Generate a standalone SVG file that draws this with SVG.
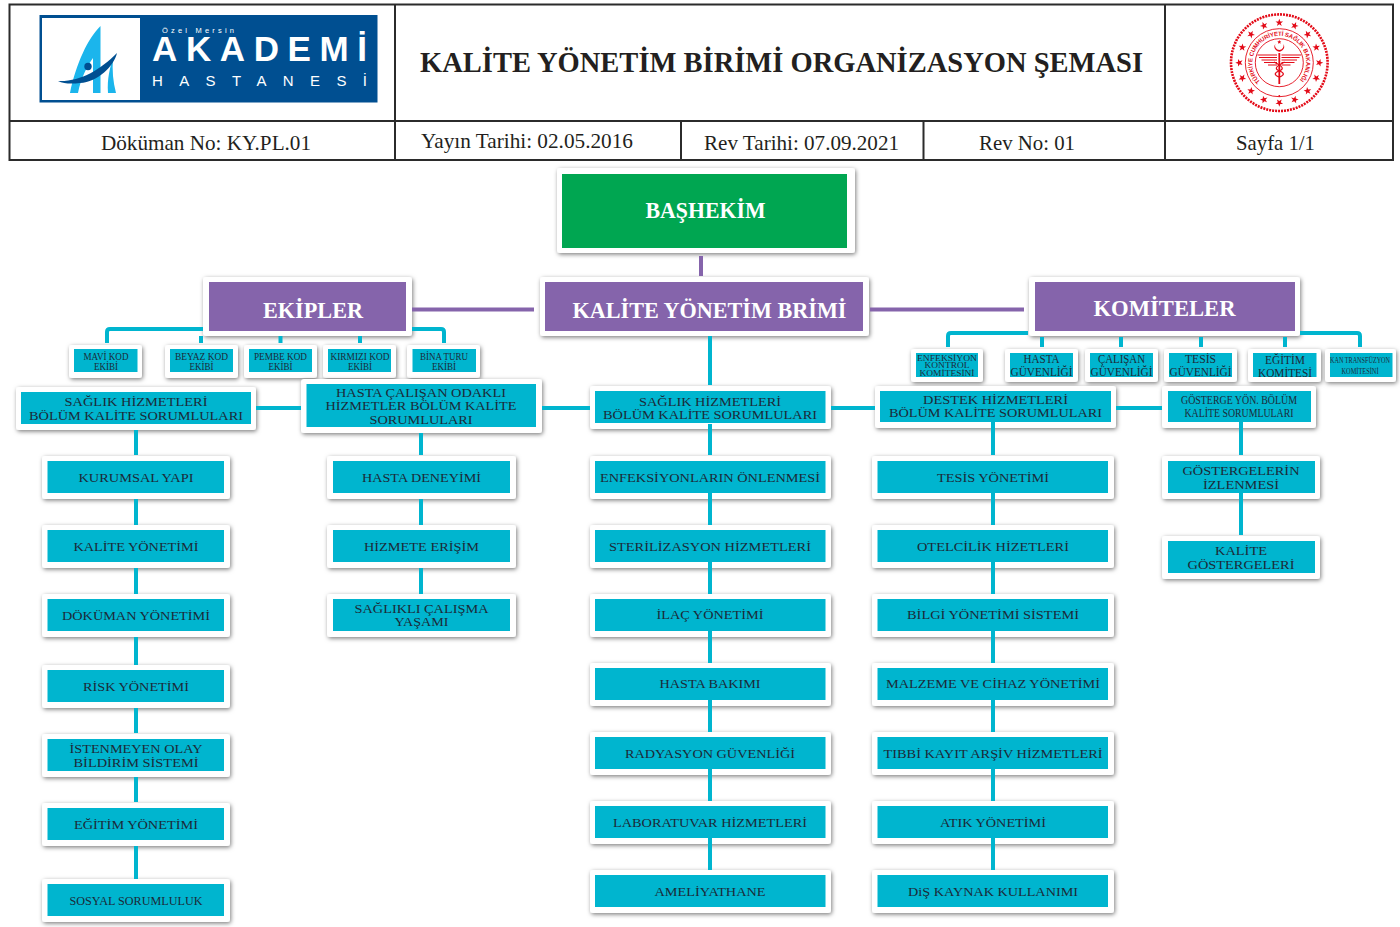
<svg xmlns="http://www.w3.org/2000/svg" width="1400" height="927" viewBox="0 0 1400 927">
<style>
text{font-family:"Liberation Serif","Times New Roman",serif;text-anchor:middle}
.f{fill:#fff;filter:url(#sh);rx:3px;ry:3px}
.b{fill:#00b5cf}
.p{fill:#8564ab}
.g{fill:#00a651}
.t{font-size:13.5px;fill:#1c2a38}
.s{font-size:9.5px;fill:#1c2a38}
.x{font-size:7.2px;fill:#1c2a38}
.n{font-size:8px;fill:#1c2a38}
.c{font-size:12.5px;fill:#1c2a38}
.w{font-weight:bold;fill:#fff;font-size:23px}
.h{font-size:21px;fill:#231f20}
.grid{stroke:#2b2b2b;stroke-width:2;fill:none}
.tl{fill:none;stroke:#00b5cf;stroke-width:4}
.pl{fill:none;stroke:#8564ab;stroke-width:4}
.lg{font-family:"Liberation Sans",Arial,sans-serif;fill:#fff;text-anchor:start}
.red{fill:#e30a17}
.rl{fill:none;stroke:#e30a17}
.wf{fill:none;stroke:#e30a17;stroke-width:1.200}
</style>
<defs>
<filter id="sh" x="-10%" y="-20%" width="125%" height="150%"><feDropShadow dx="1" dy="1.500" stdDeviation="2" flood-color="#000" flood-opacity="0.5"/></filter>
<polygon id="st" points="0,-4 1,-1.300 3.800,-1.300 1.500,0.500 2.400,3.200 0,1.600 -2.400,3.200 -1.500,0.500 -3.800,-1.300 -1,-1.300" class="red"/>
<path id="arc" d="M1260.300 81.700A26.900 26.900 0 1 1 1298.300 81.700"/>
</defs>
<rect width="1400" height="927" fill="#fff"/>

<g id="header">
<rect class="grid" x="9.500" y="4.500" width="1383.500" height="155.500"/>
<path class="grid" d="M9.500 121H1393M395 4.500V160M1165 4.500V160M681 121V160M923.500 121V160"/>
<text x="781.500" y="72" font-size="30" font-weight="bold" fill="#231f20" textLength="723" lengthAdjust="spacingAndGlyphs">KALİTE YÖNETİM BİRİMİ ORGANİZASYON ŞEMASI</text>
<text class="h" x="206" y="150" textLength="210" lengthAdjust="spacingAndGlyphs">Döküman No: KY.PL.01</text>
<text class="h" x="527" y="148" textLength="212" lengthAdjust="spacingAndGlyphs">Yayın Tarihi: 02.05.2016</text>
<text class="h" x="801.500" y="150" textLength="195" lengthAdjust="spacingAndGlyphs">Rev Tarihi: 07.09.2021</text>
<text class="h" x="1027" y="150" textLength="96" lengthAdjust="spacingAndGlyphs">Rev No: 01</text>
<text class="h" x="1275.500" y="150" textLength="79" lengthAdjust="spacingAndGlyphs">Sayfa 1/1</text>
</g>

<g id="logo">
<rect x="39.500" y="15" width="338" height="87.500" fill="#004f91"/>
<rect x="42" y="18" width="98" height="82" fill="#fff"/>
<path fill="#1bb5ec" d="M100.500 26C88 38 76 64 70 93H78C81 78 87 66 93 58V93H100.500Z"/>
<path fill="#1bb5ec" d="M113 58C110 68 107 78 108 93H116C113 82 112 70 113 58Z"/>
<path fill="#004f91" d="M58 81C80 82 100 70 117 53C114 66 98 82 80 83C72 84 64 84 58 81Z"/>
<circle cx="88" cy="66.500" r="3.700" fill="#004f91"/>
<text class="lg" x="162" y="32.500" font-size="7.500" textLength="72" lengthAdjust="spacing">Özel Mersin</text>
<text class="lg" x="152" y="61" font-size="35" font-weight="bold" textLength="215" lengthAdjust="spacing">AKADEMİ</text>
<text class="lg" x="152" y="85.500" font-size="15" textLength="215" lengthAdjust="spacing">HASTANESİ</text>
</g>

<g id="seal">
<circle class="rl" cx="1279.300" cy="62.700" r="48.300" stroke-width="2.600" stroke-dasharray="2 1"/>
<circle class="rl" cx="1279.300" cy="62.700" r="34" stroke-width="0.900"/>
<circle class="rl" cx="1279.300" cy="62.700" r="24" stroke-width="0.900"/>
<use href="#st" transform="translate(1279.300 62.700) rotate(0) translate(0 -40)"/>
<use href="#st" transform="translate(1279.300 62.700) rotate(22.500) translate(0 -40)"/>
<use href="#st" transform="translate(1279.300 62.700) rotate(45) translate(0 -40)"/>
<use href="#st" transform="translate(1279.300 62.700) rotate(67.500) translate(0 -40)"/>
<use href="#st" transform="translate(1279.300 62.700) rotate(90) translate(0 -40)"/>
<use href="#st" transform="translate(1279.300 62.700) rotate(112.500) translate(0 -40)"/>
<use href="#st" transform="translate(1279.300 62.700) rotate(135) translate(0 -40)"/>
<use href="#st" transform="translate(1279.300 62.700) rotate(157.500) translate(0 -40)"/>
<use href="#st" transform="translate(1279.300 62.700) rotate(180) translate(0 -40)"/>
<use href="#st" transform="translate(1279.300 62.700) rotate(202.500) translate(0 -40)"/>
<use href="#st" transform="translate(1279.300 62.700) rotate(225) translate(0 -40)"/>
<use href="#st" transform="translate(1279.300 62.700) rotate(247.500) translate(0 -40)"/>
<use href="#st" transform="translate(1279.300 62.700) rotate(270) translate(0 -40)"/>
<use href="#st" transform="translate(1279.300 62.700) rotate(292.500) translate(0 -40)"/>
<use href="#st" transform="translate(1279.300 62.700) rotate(315) translate(0 -40)"/>
<use href="#st" transform="translate(1279.300 62.700) rotate(337.500) translate(0 -40)"/>
<text font-size="6" font-weight="bold" style="font-family:'Liberation Sans',Arial,sans-serif;text-anchor:start" class="red"><textPath href="#arc" textLength="124">TÜRKİYE CUMHURİYETİ SAĞLIK BAKANLIĞI</textPath></text>
<path class="red" d="M1275.300 44A4.800 4.800 0 1 0 1283.300 44A4.300 4.300 0 1 1 1275.300 44Z"/>
<path class="red" d="M1279.300 40l.6 1.300 1.400.1-1 .9.300 1.400-1.300-.8-1.300.8.300-1.400-1-.9 1.400-.1Z"/>
<path class="wf" d="M1257.500 55H1277M1259 57.500H1277M1261.500 60H1277M1264 62.500H1277M1268 65H1277"/>
<path class="wf" d="M1301 55H1281.500M1299.500 57.500H1281.500M1297 60H1281.500M1294.500 62.500H1281.500M1290.500 65H1281.500"/>
<path class="rl" stroke-width="1.800" d="M1279.300 53V84"/>
<path class="rl" stroke-width="1.200" d="M1274 62C1284 67 1284 69 1279 71C1274 73 1274 75 1279 77M1284.600 62C1274.600 67 1274.600 69 1279.600 71C1284.600 73 1284.600 75 1279.600 77"/>
<circle class="red" cx="1279.300" cy="96" r="0.900"/>
</g>

<g id="basekim"><rect class="f" x="557" y="168" width="298" height="85"/><rect class="g" x="562" y="174" width="285" height="74"/><text class="w" x="705.500" y="218" textLength="120" lengthAdjust="spacingAndGlyphs">BAŞHEKİM</text></g>
<g id="kalite"><rect class="f" x="540" y="277" width="329" height="59"/><rect class="p" x="545" y="282" width="318" height="49"/><text class="w" x="709.500" y="318" textLength="274" lengthAdjust="spacingAndGlyphs">KALİTE YÖNETİM BRİMİ</text></g>
<g id="ekipler"><rect class="f" x="203" y="277" width="209" height="59"/><rect class="p" x="209" y="282" width="197" height="49"/><text class="w" x="313" y="318" textLength="100" lengthAdjust="spacingAndGlyphs">EKİPLER</text></g>
<g id="komiteler"><rect class="f" x="1029" y="277" width="271" height="59"/><rect class="p" x="1035" y="282" width="260" height="49"/><text class="w" x="1164.500" y="316" textLength="142" lengthAdjust="spacingAndGlyphs">KOMİTELER</text></g>

<g id="e1"><rect class="f" x="69" y="345" width="73" height="33"/><rect class="b" x="74" y="349" width="63.500" height="23"/><text class="s" x="106" y="360" textLength="45" lengthAdjust="spacingAndGlyphs">MAVİ KOD</text><text class="s" x="106" y="370" textLength="24" lengthAdjust="spacingAndGlyphs">EKİBİ</text></g>
<g id="e2"><rect class="f" x="165" y="345" width="73" height="33"/><rect class="b" x="170" y="349" width="63" height="23"/><text class="s" x="201.500" y="360" textLength="53" lengthAdjust="spacingAndGlyphs">BEYAZ KOD</text><text class="s" x="201.500" y="370" textLength="24" lengthAdjust="spacingAndGlyphs">EKİBİ</text></g>
<g id="e3"><rect class="f" x="244" y="345" width="73" height="33"/><rect class="b" x="249" y="349" width="63" height="23"/><text class="s" x="280.500" y="360" textLength="53" lengthAdjust="spacingAndGlyphs">PEMBE KOD</text><text class="s" x="280.500" y="370" textLength="24" lengthAdjust="spacingAndGlyphs">EKİBİ</text></g>
<g id="e4"><rect class="f" x="323" y="345" width="73" height="33"/><rect class="b" x="328" y="349" width="63" height="23"/><text class="s" x="360" y="360" textLength="59" lengthAdjust="spacingAndGlyphs">KIRMIZI KOD</text><text class="s" x="360" y="370" textLength="24" lengthAdjust="spacingAndGlyphs">EKİBİ</text></g>
<g id="e5"><rect class="f" x="407" y="345" width="73" height="33"/><rect class="b" x="412.500" y="349" width="63.500" height="23"/><text class="s" x="444" y="360" textLength="48" lengthAdjust="spacingAndGlyphs">BİNA TURU</text><text class="s" x="444" y="370" textLength="24" lengthAdjust="spacingAndGlyphs">EKİBİ</text></g>

<g id="k1"><rect class="f" x="911" y="349" width="72" height="33"/><rect class="b" x="916" y="353" width="62" height="24"/><text class="x" x="947" y="361" textLength="60" lengthAdjust="spacingAndGlyphs">ENFEKSİYON</text><text class="x" x="947" y="368" textLength="45" lengthAdjust="spacingAndGlyphs">KONTROL</text><text class="x" x="947" y="375.500" textLength="55" lengthAdjust="spacingAndGlyphs">KOMİTESİNİ</text></g>
<g id="k2"><rect class="f" x="1005" y="349" width="73" height="33"/><rect class="b" x="1010" y="353" width="63" height="24"/><text class="c" x="1041.500" y="363" textLength="36" lengthAdjust="spacingAndGlyphs">HASTA</text><text class="c" x="1041.500" y="376" textLength="62" lengthAdjust="spacingAndGlyphs">GÜVENLİĞİ</text></g>
<g id="k3"><rect class="f" x="1085" y="349" width="73" height="33"/><rect class="b" x="1090" y="353" width="63" height="24"/><text class="c" x="1121.500" y="363" textLength="47" lengthAdjust="spacingAndGlyphs">ÇALIŞAN</text><text class="c" x="1121.500" y="376" textLength="62" lengthAdjust="spacingAndGlyphs">GÜVENLİĞİ</text></g>
<g id="k4"><rect class="f" x="1164" y="349" width="73" height="33"/><rect class="b" x="1169" y="353" width="63" height="24"/><text class="c" x="1200.500" y="363" textLength="31" lengthAdjust="spacingAndGlyphs">TESİS</text><text class="c" x="1200.500" y="376" textLength="62" lengthAdjust="spacingAndGlyphs">GÜVENLİĞİ</text></g>
<g id="k5"><rect class="f" x="1248" y="349" width="73" height="33"/><rect class="b" x="1253" y="353" width="63.500" height="24"/><text class="c" x="1285" y="364" textLength="40" lengthAdjust="spacingAndGlyphs">EĞİTİM</text><text class="c" x="1285" y="377" textLength="54" lengthAdjust="spacingAndGlyphs">KOMİTESİ</text></g>
<g id="k6"><rect class="f" x="1325" y="349" width="71" height="33"/><rect class="b" x="1330" y="353" width="62.500" height="24"/><text class="n" x="1360" y="363" textLength="60" lengthAdjust="spacingAndGlyphs">KAN TRANSFÜZYON</text><text class="n" x="1360" y="374" textLength="37" lengthAdjust="spacingAndGlyphs">KOMİTESİNİ</text></g>

<g id="h1"><rect class="f" x="16" y="387" width="240" height="43"/><rect class="b" x="21" y="392" width="230" height="32"/><text class="t" x="136" y="406" textLength="143" lengthAdjust="spacingAndGlyphs">SAĞLIK HİZMETLERİ</text><text class="t" x="136" y="419.500" textLength="214" lengthAdjust="spacingAndGlyphs">BÖLÜM KALİTE SORUMLULARI</text></g>
<g id="h2"><rect class="f" x="301" y="379" width="241" height="54"/><rect class="b" x="306.500" y="384" width="229.500" height="43"/><text class="t" x="421" y="397" textLength="170" lengthAdjust="spacingAndGlyphs">HASTA ÇALIŞAN ODAKLI</text><text class="t" x="421" y="410" textLength="191" lengthAdjust="spacingAndGlyphs">HİZMETLER BÖLÜM KALİTE</text><text class="t" x="421" y="423.500" textLength="103" lengthAdjust="spacingAndGlyphs">SORUMLULARI</text></g>
<g id="h3"><rect class="f" x="590" y="386" width="241" height="43"/><rect class="b" x="595" y="391" width="230.500" height="32"/><text class="t" x="710" y="406" textLength="142" lengthAdjust="spacingAndGlyphs">SAĞLIK HİZMETLERİ</text><text class="t" x="710" y="419" textLength="214" lengthAdjust="spacingAndGlyphs">BÖLÜM KALİTE SORUMLULARI</text></g>
<g id="h4"><rect class="f" x="875" y="386" width="241" height="42"/><rect class="b" x="880" y="391" width="231" height="31"/><text class="t" x="995.500" y="404" textLength="145" lengthAdjust="spacingAndGlyphs">DESTEK HİZMETLERİ</text><text class="t" x="995.500" y="417" textLength="213" lengthAdjust="spacingAndGlyphs">BÖLÜM KALİTE SORUMLULARI</text></g>
<g id="h5"><rect class="f" x="1162" y="386" width="154" height="42"/><rect class="b" x="1168" y="391" width="143" height="31"/><text class="c" x="1239" y="404" textLength="116" lengthAdjust="spacingAndGlyphs">GÖSTERGE YÖN. BÖLÜM</text><text class="c" x="1239" y="417" textLength="109" lengthAdjust="spacingAndGlyphs">KALİTE SORUMLULARI</text></g>

<g id="a1"><rect class="f" x="42" y="456" width="188" height="43"/><rect class="b" x="47.500" y="461" width="176.500" height="32"/><text class="t" x="136" y="482" textLength="115" lengthAdjust="spacingAndGlyphs">KURUMSAL YAPI</text></g>
<g id="a2"><rect class="f" x="42" y="525" width="188" height="43"/><rect class="b" x="47.500" y="530" width="176.500" height="32"/><text class="t" x="136" y="551" textLength="125" lengthAdjust="spacingAndGlyphs">KALİTE YÖNETİMİ</text></g>
<g id="a3"><rect class="f" x="42" y="594" width="188" height="43"/><rect class="b" x="47.500" y="599" width="176.500" height="32"/><text class="t" x="136" y="620" textLength="148" lengthAdjust="spacingAndGlyphs">DÖKÜMAN YÖNETİMİ</text></g>
<g id="a4"><rect class="f" x="42" y="665" width="188" height="43"/><rect class="b" x="47.500" y="670" width="176.500" height="32"/><text class="t" x="136" y="691" textLength="106" lengthAdjust="spacingAndGlyphs">RİSK YÖNETİMİ</text></g>
<g id="a5"><rect class="f" x="42" y="734" width="188" height="43"/><rect class="b" x="47.500" y="739" width="176.500" height="32"/><text class="t" x="136" y="753" textLength="133" lengthAdjust="spacingAndGlyphs">İSTENMEYEN OLAY</text><text class="t" x="136" y="766.500" textLength="125" lengthAdjust="spacingAndGlyphs">BİLDİRİM SİSTEMİ</text></g>
<g id="a6"><rect class="f" x="42" y="803" width="188" height="43"/><rect class="b" x="47.500" y="808" width="176.500" height="32"/><text class="t" x="136" y="829" textLength="124" lengthAdjust="spacingAndGlyphs">EĞİTİM YÖNETİMİ</text></g>
<g id="a7"><rect class="f" x="42" y="879" width="188" height="43"/><rect class="b" x="47.500" y="884" width="176.500" height="32"/><text class="t" x="136" y="905" textLength="133" lengthAdjust="spacingAndGlyphs">SOSYAL SORUMLULUK</text></g>

<g id="b1"><rect class="f" x="327" y="456" width="189" height="43"/><rect class="b" x="333" y="461" width="177" height="32"/><text class="t" x="421.500" y="482" textLength="119" lengthAdjust="spacingAndGlyphs">HASTA DENEYİMİ</text></g>
<g id="b2"><rect class="f" x="327" y="525" width="189" height="43"/><rect class="b" x="333" y="530" width="177" height="32"/><text class="t" x="421.500" y="551" textLength="115" lengthAdjust="spacingAndGlyphs">HİZMETE ERİŞİM</text></g>
<g id="b3"><rect class="f" x="327" y="594" width="189" height="43"/><rect class="b" x="333" y="599" width="177" height="32"/><text class="t" x="421.500" y="612.500" textLength="134" lengthAdjust="spacingAndGlyphs">SAĞLIKLI ÇALIŞMA</text><text class="t" x="421.500" y="626" textLength="54" lengthAdjust="spacingAndGlyphs">YAŞAMI</text></g>

<g id="c1"><rect class="f" x="590" y="456" width="241" height="43"/><rect class="b" x="595" y="461" width="230.500" height="32"/><text class="t" x="710" y="482" textLength="220" lengthAdjust="spacingAndGlyphs">ENFEKSİYONLARIN ÖNLENMESİ</text></g>
<g id="c2"><rect class="f" x="590" y="525" width="241" height="43"/><rect class="b" x="595" y="530" width="230.500" height="32"/><text class="t" x="710" y="551" textLength="202" lengthAdjust="spacingAndGlyphs">STERİLİZASYON HİZMETLERİ</text></g>
<g id="c3"><rect class="f" x="590" y="594" width="241" height="43"/><rect class="b" x="595" y="599" width="230.500" height="32"/><text class="t" x="710" y="619" textLength="107" lengthAdjust="spacingAndGlyphs">İLAÇ YÖNETİMİ</text></g>
<g id="c4"><rect class="f" x="590" y="663" width="241" height="43"/><rect class="b" x="595" y="668" width="230.500" height="32"/><text class="t" x="710" y="688" textLength="101" lengthAdjust="spacingAndGlyphs">HASTA BAKIMI</text></g>
<g id="c5"><rect class="f" x="590" y="732" width="241" height="43"/><rect class="b" x="595" y="737" width="230.500" height="32"/><text class="t" x="710" y="758" textLength="170" lengthAdjust="spacingAndGlyphs">RADYASYON GÜVENLİĞİ</text></g>
<g id="c6"><rect class="f" x="590" y="801" width="241" height="43"/><rect class="b" x="595" y="806" width="230.500" height="32"/><text class="t" x="710" y="827" textLength="194" lengthAdjust="spacingAndGlyphs">LABORATUVAR HİZMETLERİ</text></g>
<g id="c7"><rect class="f" x="590" y="870" width="241" height="43"/><rect class="b" x="595" y="875" width="230.500" height="32"/><text class="t" x="710" y="896" textLength="111" lengthAdjust="spacingAndGlyphs">AMELİYATHANE</text></g>

<g id="d1"><rect class="f" x="872" y="456" width="242" height="43"/><rect class="b" x="877.500" y="461" width="230.500" height="32"/><text class="t" x="993" y="482" textLength="112" lengthAdjust="spacingAndGlyphs">TESİS YÖNETİMİ</text></g>
<g id="d2"><rect class="f" x="872" y="525" width="242" height="43"/><rect class="b" x="877.500" y="530" width="230.500" height="32"/><text class="t" x="993" y="551" textLength="152" lengthAdjust="spacingAndGlyphs">OTELCİLİK HİZETLERİ</text></g>
<g id="d3"><rect class="f" x="872" y="594" width="242" height="43"/><rect class="b" x="877.500" y="599" width="230.500" height="32"/><text class="t" x="993" y="619" textLength="172" lengthAdjust="spacingAndGlyphs">BİLGİ YÖNETİMİ SİSTEMİ</text></g>
<g id="d4"><rect class="f" x="872" y="663" width="242" height="43"/><rect class="b" x="877.500" y="668" width="230.500" height="32"/><text class="t" x="993" y="688" textLength="214" lengthAdjust="spacingAndGlyphs">MALZEME VE CİHAZ YÖNETİMİ</text></g>
<g id="d5"><rect class="f" x="872" y="732" width="242" height="43"/><rect class="b" x="877.500" y="737" width="230.500" height="32"/><text class="t" x="993" y="758" textLength="219" lengthAdjust="spacingAndGlyphs">TIBBİ KAYIT ARŞİV HİZMETLERİ</text></g>
<g id="d6"><rect class="f" x="872" y="801" width="242" height="43"/><rect class="b" x="877.500" y="806" width="230.500" height="32"/><text class="t" x="993" y="827" textLength="106" lengthAdjust="spacingAndGlyphs">ATIK YÖNETİMİ</text></g>
<g id="d7"><rect class="f" x="872" y="870" width="242" height="43"/><rect class="b" x="877.500" y="875" width="230.500" height="32"/><text class="t" x="993" y="896" textLength="170" lengthAdjust="spacingAndGlyphs">DiŞ KAYNAK KULLANIMI</text></g>

<g id="m1"><rect class="f" x="1162" y="456" width="158" height="43"/><rect class="b" x="1168" y="461" width="147" height="32"/><text class="t" x="1241" y="475" textLength="117" lengthAdjust="spacingAndGlyphs">GÖSTERGELERİN</text><text class="t" x="1241" y="488.500" textLength="76" lengthAdjust="spacingAndGlyphs">İZLENMESİ</text></g>
<g id="m2"><rect class="f" x="1162" y="536" width="158" height="43"/><rect class="b" x="1168" y="541" width="147" height="32"/><text class="t" x="1241" y="555" textLength="52" lengthAdjust="spacingAndGlyphs">KALİTE</text><text class="t" x="1241" y="568.500" textLength="107" lengthAdjust="spacingAndGlyphs">GÖSTERGELERİ</text></g>

<g id="connectors">
<path class="pl" d="M701 256V276M412 309.500H534M870 309.500H1024"/>
<path class="tl" d="M203 329H110Q107 329 107 332V343M412 329H441Q444 329 444 332V343M201 336V343M280.500 336V343M360 336V343"/>
<path class="tl" d="M1028 333H951Q948 333 948 336V347M1300 333H1357Q1360 333 1360 336V347M1042 337V347M1121 337V347M1201 337V347M1285 337V347"/>
<path class="tl" d="M256 408H301M542 408H590M831 408H875M1116 408H1162"/>
<path class="tl" d="M136 430V455M136 499V525M136 568V594M136 637V665M136 708V733M136 777V802M136 846V879"/>
<path class="tl" d="M421 433V455M421 499V525M421 568V594"/>
<path class="tl" d="M710 336V385M710 424V455M710 493V525M710 562V594M710 631V663M710 700V732M710 769V801M710 838V870"/>
<path class="tl" d="M993 422V455M993 493V525M993 562V594M993 631V663M993 700V732M993 769V801M993 838V870"/>
<path class="tl" d="M1241 422V455M1241 493V535"/>
</g>
</svg>
